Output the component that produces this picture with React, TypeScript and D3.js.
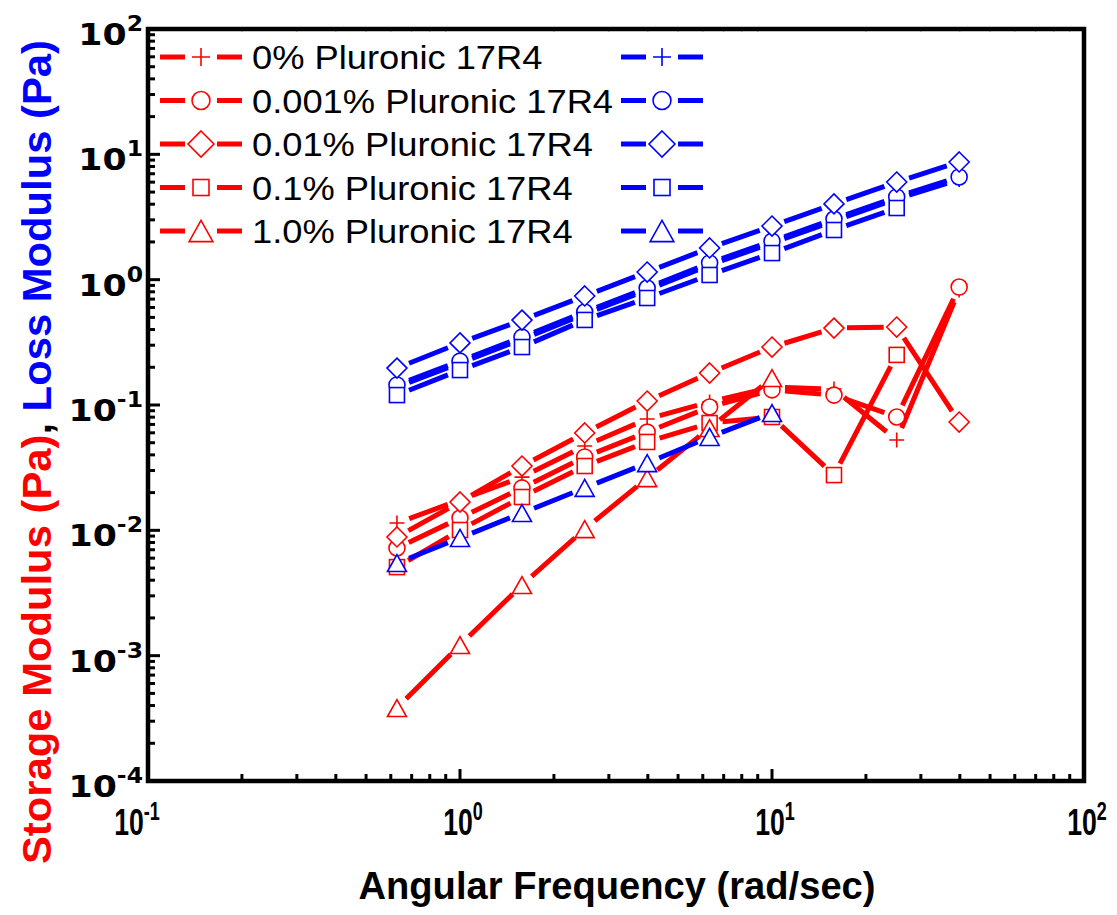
import React from "react";
import * as d3 from "d3";

const freq = [0.628, 1.0, 1.58, 2.51, 3.98, 6.31, 10, 15.8, 25.1, 39.8];

const labels = [
  "0% Pluronic 17R4",
  "0.001% Pluronic 17R4",
  "0.01% Pluronic 17R4",
  "0.1% Pluronic 17R4",
  "1.0% Pluronic 17R4",
];
const shapes = ["plus", "circle", "diamond", "square", "triangle"];

// Storage modulus G' (red)
const gPrime0 = [0.01143, 0.01746, 0.0266, 0.0471, 0.0773, 0.1057, 0.139, 0.134, 0.0526, 0.827];
const gPrime0001 = [0.00723, 0.01253, 0.0218, 0.0385, 0.0608, 0.0964, 0.132, 0.12, 0.0802, 0.873];
const gPrime001 = [0.00885, 0.01683, 0.0326, 0.0598, 0.1076, 0.18, 0.29, 0.411, 0.419, 0.0731];
const gPrime01 = [0.00509, 0.01006, 0.01845, 0.0326, 0.0507, 0.0718, 0.0802, 0.0276, 0.251];
const gPrime1 = [0.000382, 0.001216, 0.00366, 0.01023, 0.0261, 0.0655, 0.164];

// Loss modulus G'' (blue)
const gDouble0 = [0.139, 0.216, 0.335, 0.532, 0.827, 1.31, 1.96, 2.94, 4.41, 6.3];
const gDouble0001 = [0.1445, 0.224, 0.348, 0.552, 0.858, 1.36, 2.03, 3.05, 4.57, 6.6];
const gDouble001 = [0.197, 0.313, 0.476, 0.741, 1.15, 1.79, 2.68, 4.02, 6.01, 8.69];
const gDouble01 = [0.12, 0.19, 0.29, 0.477, 0.714, 1.09, 1.63, 2.49, 3.73];
const gDouble1 = [0.00548, 0.00869, 0.01374, 0.0218, 0.0344, 0.0556, 0.0863];

const xTickExps = [-1, 0, 1, 2];
const yTickExps = [2, 1, 0, -1, -2, -3, -4];

const RED = "#ff0000";
const BLUE = "#0000ff";

const L = 148, R = 1084, T = 29, B = 781;
const x = d3.scaleLog().domain([0.1, 100]).range([L, R]);
const y = d3.scaleLog().domain([1e-4, 1e2]).range([B, T]);

function Marker({ shape, cx, cy, color, big }: { shape: string; cx: number; cy: number; color: string; big?: boolean }) {
  const sw = 1.6;
  const k = big ? 1.25 : 1;
  const fill = "#fff";
  if (shape === "plus") {
    const a = big ? 9 : 7.5;
    return (
      <path d={`M${cx - a},${cy}H${cx + a}M${cx},${cy - a}V${cy + a}`} stroke={color} strokeWidth={sw} fill="none" />
    );
  }
  if (shape === "circle") return <circle cx={cx} cy={cy} r={8 * (big ? 1.12 : 1)} stroke={color} strokeWidth={sw} fill={fill} />;
  if (shape === "diamond") {
    const a = big ? 13 : 10;
    return (
      <path d={`M${cx},${cy - a}L${cx + a},${cy}L${cx},${cy + a}L${cx - a},${cy}Z`} stroke={color} strokeWidth={sw} fill={fill} />
    );
  }
  if (shape === "square") {
    const a = big ? 8 : 7.5;
    return <rect x={cx - a} y={cy - a} width={2 * a} height={2 * a} stroke={color} strokeWidth={sw} fill={fill} />;
  }
  const w = 9.5 * k, h = 8.5 * k;
  return (
    <path d={`M${cx},${cy - h}L${cx + w},${cy + h}L${cx - w},${cy + h}Z`} stroke={color} strokeWidth={sw} fill={fill} />
  );
}

function Series({ values, shape, color }: { values: number[]; shape: string; color: string }) {
  const pts = values.map((v, i) => [x(freq[i]), y(v)] as [number, number]);
  const gap = 13;
  const segs: string[] = [];
  for (let i = 0; i < pts.length - 1; i++) {
    const [x1, y1] = pts[i];
    const [x2, y2] = pts[i + 1];
    const len = Math.hypot(x2 - x1, y2 - y1);
    if (len <= 2 * gap) continue;
    const ux = (x2 - x1) / len, uy = (y2 - y1) / len;
    segs.push(`M${x1 + ux * gap},${y1 + uy * gap}L${x2 - ux * gap},${y2 - uy * gap}`);
  }
  return (
    <g>
      <path d={segs.join("")} stroke={color} strokeWidth={5} fill="none" />
      {pts.map((p, i) => (
        <Marker key={i} shape={shape} cx={p[0]} cy={p[1]} color={color} />
      ))}
    </g>
  );
}

function LegendSym({ cx, cy, shape, color }: { cx: number; cy: number; shape: string; color: string }) {
  return (
    <g>
      <line x1={cx - 41} x2={cx - 16} y1={cy} y2={cy} stroke={color} strokeWidth={5} />
      <line x1={cx + 16} x2={cx + 41} y1={cy} y2={cy} stroke={color} strokeWidth={5} />
      <Marker shape={shape} cx={cx} cy={cy} color={color} big />
    </g>
  );
}

export default function App() {
  const red = [gPrime0, gPrime0001, gPrime001, gPrime01, gPrime1];
  const blue = [gDouble0, gDouble0001, gDouble001, gDouble01, gDouble1];

  const xMinor: number[] = [];
  for (let e = -1; e < 2; e++) for (let k = 2; k <= 9; k++) xMinor.push(k * Math.pow(10, e));
  const yMinor: number[] = [];
  for (let e = -4; e < 2; e++) for (let k = 2; k <= 9; k++) yMinor.push(k * Math.pow(10, e));

  const font = "'Liberation Sans', Arial, sans-serif";

  return (
    <svg width={1117} height={915} style={{ position: "absolute", left: 0, top: 0, background: "#fff" }} fontFamily={font}>
      <rect x={0} y={0} width={1117} height={915} fill="#fff" />
      {/* series */}
      {red.map((v, i) => (
        <Series key={"r" + i} values={v} shape={shapes[i]} color={RED} />
      ))}
      {blue.map((v, i) => (
        <Series key={"b" + i} values={v} shape={shapes[i]} color={BLUE} />
      ))}

      {/* ticks */}
      <g stroke="#000">
        {xTickExps.slice(1, 3).map((e) => (
          <line key={"xM" + e} x1={x(Math.pow(10, e))} x2={x(Math.pow(10, e))} y1={B} y2={B - 12} strokeWidth={3} />
        ))}
        {xMinor.map((v, i) => (
          <line key={"xm" + i} x1={x(v)} x2={x(v)} y1={B} y2={B - 7} strokeWidth={3} />
        ))}
        {xMinor.map((v, i) => (
          <line key={"xt" + i} x1={x(v)} x2={x(v)} y1={T} y2={T + 3} strokeWidth={1} stroke="#aaa" />
        ))}
        {yTickExps.slice(1, 6).map((e) => (
          <line key={"yM" + e} x1={L} x2={L + 12} y1={y(Math.pow(10, e))} y2={y(Math.pow(10, e))} strokeWidth={3} />
        ))}
        {yMinor.map((v, i) => (
          <line key={"ym" + i} x1={L} x2={L + 7} y1={y(v)} y2={y(v)} strokeWidth={3} />
        ))}
      </g>
      <rect x={L} y={T} width={R - L} height={B - T} fill="none" stroke="#000" strokeWidth={4.5} />

      {/* y tick labels */}
      {yTickExps.map((e) => (
        <text
          key={"yl" + e}
          transform={`translate(143,${y(Math.pow(10, e)) + 16}) scale(1.12,1)`}
          textAnchor="end"
          fontWeight="bold"
          fontSize={31}
          fontFamily="'DejaVu Sans', sans-serif"
        >
          <tspan>10</tspan>
          <tspan dy={-14} fontSize={21}>
            {e < 0 ? "-" + Math.abs(e) : String(e)}
          </tspan>
        </text>
      ))}

      {/* x tick labels */}
      {xTickExps.map((e) => (
        <text
          key={"xl" + e}
          transform={`translate(${x(Math.pow(10, e)) + (e < 0 ? -11 : 3)},${835}) scale(0.72,1)`}
          textAnchor="middle"
          fontWeight="bold"
          fontSize={37}
        >
          <tspan>10</tspan>
          <tspan dy={-15} fontSize={25}>
            {e < 0 ? "-" + Math.abs(e) : String(e)}
          </tspan>
        </text>
      ))}

      {/* axis titles */}
      <text x={617} y={899} textAnchor="middle" fontWeight="bold" fontSize={38} textLength={517} lengthAdjust="spacingAndGlyphs">
        Angular Frequency (rad/sec)
      </text>
      <text
        transform="translate(51,452) rotate(-90)"
        textAnchor="middle"
        fontWeight="bold"
        fontSize={41}
        textLength={824}
        lengthAdjust="spacingAndGlyphs"
      >
        <tspan fill={RED}>Storage Modulus (Pa)</tspan>
        <tspan fill="#000">, </tspan>
        <tspan fill={BLUE}>Loss Modulus (Pa)</tspan>
      </text>

      {/* legend */}
      {labels.map((lab, i) => {
        const cy = 57 + i * 43.5;
        return (
          <g key={"lg" + i}>
            <LegendSym cx={201} cy={cy} shape={shapes[i]} color={RED} />
            <text transform={`translate(252,${cy + 12}) scale(1.1,1)`} fontSize={33} fill="#000">
              {lab}
            </text>
            <LegendSym cx={662} cy={cy} shape={shapes[i]} color={BLUE} />
          </g>
        );
      })}
    </svg>
  );
}
